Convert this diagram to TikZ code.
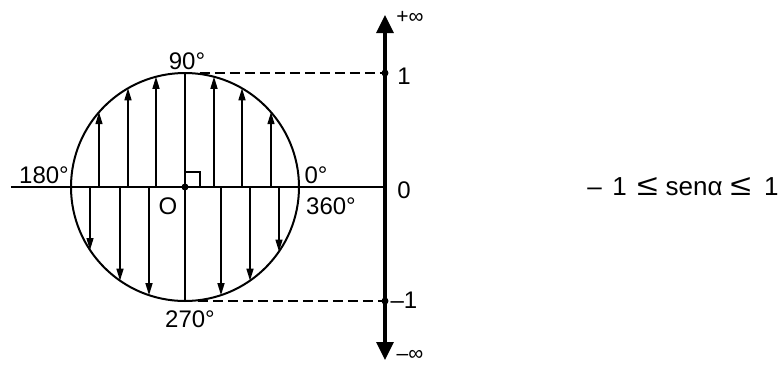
\documentclass[tikz,border=0pt]{standalone}
\usepackage{fontspec}
\usepackage{graphicx}
\setmainfont{Liberation Sans}
\usetikzlibrary{arrows.meta}
\newcommand{\wideleq}{\scalebox{1.45}[1.15]{≤}}

\begin{document}
\begin{tikzpicture}[
  x=0.5pt, y=0.5pt,
  lbl/.style={inner sep=0pt, font=\fontsize{12}{14}\selectfont},
  inf/.style={inner sep=0pt, font=\fontsize{10.5}{12}\selectfont},
  ln/.style={line width=1pt},
  vec/.style={-{Triangle[length=6pt,width=3.5pt]}, line width=0.7pt},
  axisarr/.style={{Triangle[length=9pt,width=8.5pt]}-{Triangle[length=9pt,width=8.5pt]}, line width=1.6pt},
  guide/.style={dash pattern=on 5pt off 2.5pt, line width=0.9pt},
  dot/.style={circle, fill, inner sep=0pt, minimum size=3.5pt}
]
\useasboundingbox (-185,-178) rectangle (598,187);

\coordinate (O) at (0,0);
\coordinate (top) at (0,114);
\coordinate (bot) at (0,-114);
\coordinate (left) at (-174,0);
\coordinate (ax0) at (200,0);
\coordinate (axtop) at (200,172);
\coordinate (axbot) at (200,-173);
\coordinate (one) at (200,114);
\coordinate (mone) at (200,-114);

% unit circle and diameters
\draw[ln] (O) circle[radius=114];
\draw[ln] (left) -- (ax0);
\draw[ln] (top) -- (bot);
\draw[line width=0.8pt] (0,15) -- (15,15) -- (15,0);

% sine axis
\draw[axisarr] (axbot) -- (axtop);
\draw[guide] (15,114) -- (one);
\draw[guide] (13,-114) -- (mone);

% sine values, positive and negative
\foreach \d [count=\i] in {-86,-57,-29,29,57,86} {
  \coordinate (a\i) at (\d,0);
  \coordinate (b\i) at (\d,{sqrt(114^2-(\d)^2)});
  \draw[vec] (a\i) -- (b\i);
}
\foreach \d [count=\i] in {-95,-65,-36,36,65,94} {
  \coordinate (c\i) at (\d,0);
  \coordinate (e\i) at (\d,{-sqrt(114^2-(\d)^2)});
  \draw[vec] (c\i) -- (e\i);
}

\node[dot] (dO) at (O) {};
\node[dot] (d1) at (one) {};
\node[dot] (dm1) at (mone) {};

\node[lbl] (l90) at (2,126) {90°};
\node[lbl] (l270) at (5,-132) {270°};
\node[lbl] (l180) at (-141,12) {180°};
\node[lbl] (l0) at (131,12) {0°};
\node[lbl] (l360) at (146,-19) {360°};
\node[lbl] (lO) at (-17,-19) {O};
\node[lbl] (v1) at (219,111) {1};
\node[lbl] (v0) at (219,-3) {0};
\node[lbl] (vm1) at (219,-113) {–1};
\node[inf] (pinf) at (225,170) {+∞};
\node[inf] (minf) at (225,-168) {–∞};
\node[lbl, font=\fontsize{13}{15}\selectfont] (rng) at (498,0)
  {–\hspace{0.4em}1\hspace{0.4em}\wideleq\hspace{0.3em}senα\hspace{0.3em}\wideleq\hspace{0.5em}1};

\end{tikzpicture}
\end{document}
